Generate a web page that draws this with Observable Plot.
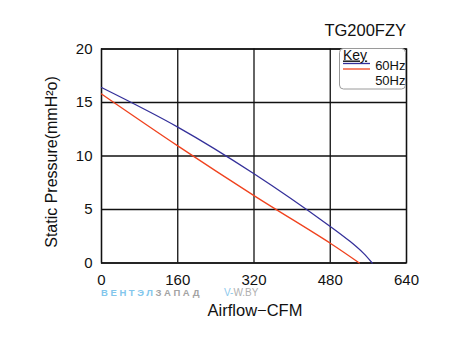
<!DOCTYPE html>
<html><head><meta charset="utf-8">
<script src="https://cdn.jsdelivr.net/npm/d3@7"></script>
<script src="https://cdn.jsdelivr.net/npm/@observablehq/plot@0.6"></script>
<style>
body{margin:0;background:#fff;}
#wrap{position:relative;width:453px;height:354px;}
</style></head><body><div id="wrap"></div>
<script>
const title = "TG200FZY";
const xLabel = "Airflow\u2212CFM";
const yLabel = "Static Pressure(mmH\u00B2o)";
const legendTitle = "Key";
const xTicks = [0, 160, 320, 480, 640];
const yTicks = [0, 5, 10, 15, 20];
const seriesNames = ["60Hz", "50Hz"];
const seriesColors = ["#34309a", "#f0421e"];
const airflow60 = [0, 160, 320, 480, 522, 550, 568];
const pressure60 = [16.4, 12.7, 8.34, 3.42, 2.0, 0.9, 0];
const airflow50 = [0, 160, 320, 480, 541];
const pressure50 = [15.8, 10.95, 6.3, 1.85, 0];
const watermarkA = "ВЕНТЭЛ";
const watermarkB = "ЗАПАД";
const watermarkC = "V-";
const watermarkD = "W.BY";

const rows = [
  ...airflow60.map((a, i) => ({airflow: a, pressure: pressure60[i], series: seriesNames[0]})),
  ...airflow50.map((a, i) => ({airflow: a, pressure: pressure50[i], series: seriesNames[1]}))
];
const FONT = "'Liberation Sans', Arial, Helvetica, sans-serif";

const chart = Plot.plot({
  width: 453, height: 354,
  marginLeft: 101, marginRight: 47, marginTop: 48.5, marginBottom: 91.5,
  style: {fontFamily: FONT, fontSize: "15px", background: "white", color: "#111"},
  x: {domain: [0, 640], ticks: xTicks, tickSize: 0, tickPadding: 11, label: null},
  y: {domain: [0, 20], ticks: yTicks, tickSize: 0, tickPadding: 9, label: null},
  color: {domain: seriesNames, range: seriesColors},
  marks: [
    Plot.gridX(xTicks, {stroke: "#111", strokeOpacity: 1, strokeWidth: 1.3}),
    Plot.gridY(yTicks, {stroke: "#111", strokeOpacity: 1, strokeWidth: 1.3}),
    Plot.frame({stroke: "#111", strokeWidth: 1.3}),
    Plot.line(rows, {x: "airflow", y: "pressure", z: "series", stroke: "series", strokeWidth: 1.3, curve: "catmull-rom"})
  ]
});
document.getElementById("wrap").appendChild(chart);

const svg = d3.select(chart);
const t = (x, y, s, size, anchor) => svg.append("text").attr("x", x).attr("y", y)
  .attr("font-family", FONT).attr("font-size", size).attr("fill", "#111")
  .attr("text-anchor", anchor || "start").text(s);

t(406, 36, title, 16.5, "end");
t(255, 316, xLabel, 16.5, "middle");
svg.append("text").attr("transform", "translate(56.7,162) rotate(-90)")
  .attr("font-family", FONT).attr("font-size", 16).attr("fill", "#111")
  .attr("text-anchor", "middle").text(yLabel);

// legend
svg.append("rect").attr("x", 339.5).attr("y", 48.5).attr("width", 66).attr("height", 40.5)
  .attr("rx", 4).attr("fill", "white").attr("stroke", "#9a9a9a").attr("stroke-width", 1);
t(343, 59.5, legendTitle, 14).attr("text-decoration", "underline");
svg.append("line").attr("x1", 343).attr("x2", 370).attr("y1", 63.5).attr("y2", 63.5).attr("stroke", seriesColors[0]).attr("stroke-width", 1.3);
svg.append("line").attr("x1", 343).attr("x2", 370).attr("y1", 69).attr("y2", 69).attr("stroke", seriesColors[1]).attr("stroke-width", 1.3);
t(405.5, 70, seriesNames[0], 13, "end");
t(405.5, 85, seriesNames[1], 13, "end");

// watermark
const wm = svg.append("text").attr("x", 101).attr("y", 295.5).attr("font-family", FONT)
  .attr("text-anchor", "start")
  .attr("font-size", 9.5).attr("font-weight", "bold").attr("letter-spacing", 2.6);
wm.append("tspan").attr("fill", "#82c6ec").text(watermarkA);
wm.append("tspan").attr("fill", "#a3a3a3").text(watermarkB);
const wm2 = svg.append("text").attr("x", 224).attr("y", 295.5).attr("font-family", FONT)
  .attr("text-anchor", "start").attr("font-size", 10);
wm2.append("tspan").attr("fill", "#8cc8ec").text(watermarkC);
wm2.append("tspan").attr("fill", "#b0b0b0").text(watermarkD);
</script></body></html>
